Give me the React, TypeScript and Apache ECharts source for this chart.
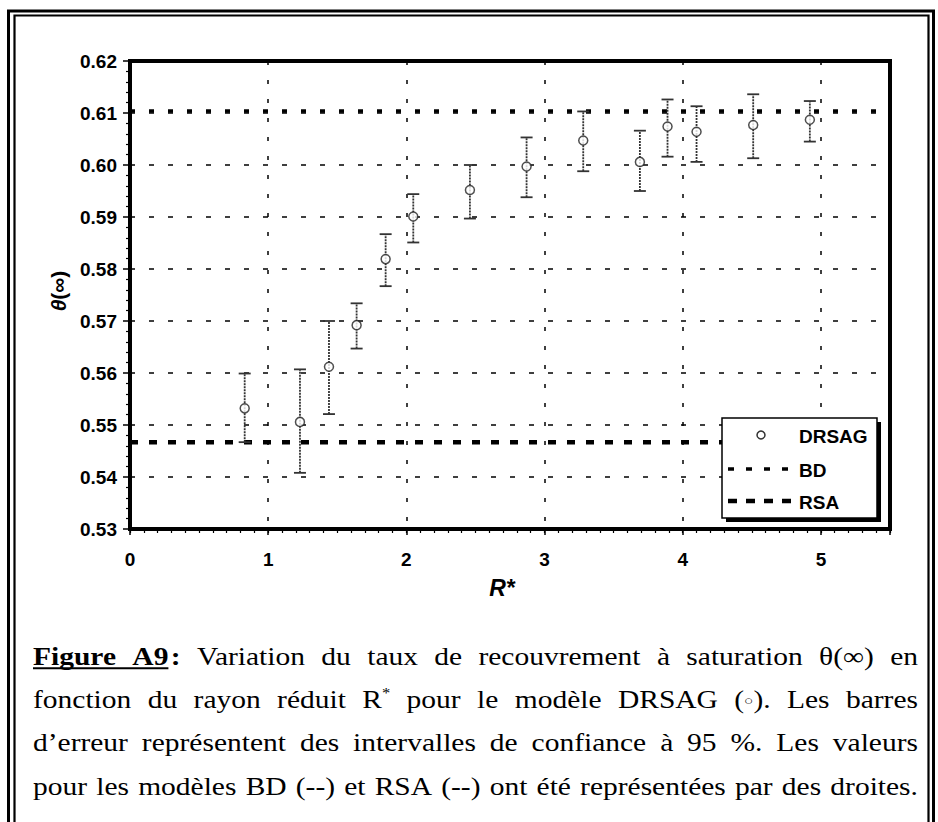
import React, { useEffect, useRef } from 'react';
import * as echarts from 'echarts';

// ---------- data ----------
const R_STAR = [0.83, 1.23, 1.44, 1.64, 1.85, 2.05, 2.46, 2.87, 3.28, 3.69, 3.89, 4.10, 4.51, 4.92];
const THETA = [0.5532, 0.5506, 0.5612, 0.5692, 0.5819, 0.5901, 0.5952, 0.5997, 0.6047, 0.6006, 0.6074, 0.6064, 0.6077, 0.6087];
const CI_LOW = [0.5467, 0.5408, 0.5521, 0.5647, 0.5767, 0.5851, 0.5897, 0.5938, 0.5988, 0.5950, 0.6016, 0.6006, 0.6013, 0.6045];
const CI_HIGH = [0.5599, 0.5607, 0.5700, 0.5734, 0.5867, 0.5944, 0.6000, 0.6053, 0.6103, 0.6066, 0.6126, 0.6113, 0.6136, 0.6123];
const BD_VALUE = 0.6104;
const RSA_VALUE = 0.5467;
const X_MIN = 0;
const X_MAX = 5.5;
const X_STEP = 1;
const X_MINOR_STEP = 0.1;
const Y_MIN = 0.53;
const Y_MAX = 0.62;
const Y_STEP = 0.01;
const SERIES_NAMES = ['DRSAG', 'BD', 'RSA'];

type Part = { t: string; b?: boolean; u?: boolean; sup?: boolean; small?: boolean; dx?: number };
const toks = (s: string): Part[][] => s.split(' ').map((w) => [{ t: w }]);

const CAPTION_LINES: Part[][][] = [
  [
    [{ t: 'Figure', b: true, u: true }],
    [{ t: 'A9', b: true, u: true }, { t: ':', b: true, dx: 2 }],
    ...toks('Variation du taux de recouvrement à saturation θ(∞) en'),
  ],
  [
    ...toks('fonction du rayon réduit'),
    [{ t: 'R' }, { t: '*', sup: true }],
    ...toks('pour le modèle DRSAG'),
    [{ t: '(' }, { t: '○', small: true }, { t: ').' }],
    ...toks('Les barres'),
  ],
  toks('d’erreur représentent des intervalles de confiance à 95 %. Les valeurs'),
  toks('pour les modèles BD (--) et RSA (--) ont été représentées par des droites.'),
];

const SANS = '"Liberation Sans", Arial, sans-serif';
const SERIF = '"Liberation Serif", "DejaVu Serif", serif';

function buildCaption(): any[] {
  const canvas = document.createElement('canvas');
  const ctx = canvas.getContext('2d') as CanvasRenderingContext2D;
  const FS = 25;
  const SUP = 14;
  const SMALL = 13;
  const STRETCH = 1.18;
  const fontOf = (p: Part) => `${p.b ? 'bold ' : ''}${p.sup ? SUP : p.small ? SMALL : FS}px ${SERIF}`;
  const measure = (p: Part) => {
    ctx.font = fontOf(p);
    return ctx.measureText(p.t).width + (p.dx || 0);
  };
  ctx.font = `${FS}px ${SERIF}`;
  const sp = ctx.measureText(' ').width;
  const left = 33;
  const right = 918;
  const ys = [657, 700, 743, 787];
  const els: any[] = [];
  CAPTION_LINES.forEach((tokens, li) => {
    const widths = tokens.map((tok) => tok.reduce((s, p) => s + measure(p), 0));
    const total = widths.reduce((a, b) => a + b, 0);
    const natural = total + sp * (tokens.length - 1);
    const avail = right - left;
    let scale = STRETCH;
    let gap: number;
    if (natural * STRETCH <= avail) {
      gap = (avail / STRETCH - total) / (tokens.length - 1);
    } else {
      scale = avail / natural;
      gap = sp;
    }
    const children: any[] = [];
    let x = 0;
    let uStart: number | null = null;
    let uEnd = 0;
    const y = ys[li];
    tokens.forEach((tok) => {
      tok.forEach((p) => {
        const w = measure(p);
        const px = x + (p.dx || 0);
        children.push({
          type: 'text',
          x: px,
          y: p.sup ? y - FS * 0.3 : y,
          style: {
            text: p.t,
            font: fontOf(p),
            fill: '#000',
            textAlign: 'left',
            textVerticalAlign: 'middle',
          },
        });
        if (p.u) {
          if (uStart === null) uStart = x;
          uEnd = x + w;
        }
        x += w;
      });
      x += gap;
    });
    if (uStart !== null) {
      children.push({
        type: 'line',
        shape: { x1: uStart, y1: y + FS * 0.45, x2: uEnd, y2: y + FS * 0.45 },
        style: { stroke: '#000', lineWidth: 1.8 },
      });
    }
    els.push({ type: 'group', x: left, y: 0, scaleX: scale, children });
  });
  return els;
}

function buildLegend(): any[] {
  const bx = 722;
  const by = 418;
  const bw = 155;
  const bh = 100;
  const tx = 799;
  const rows = [435, 469, 501];
  return [
    { type: 'rect', z: 100, shape: { x: bx + 4, y: by + 4, width: bw, height: bh }, style: { fill: '#000' } },
    { type: 'rect', z: 101, shape: { x: bx, y: by, width: bw, height: bh }, style: { fill: '#fff', stroke: '#000', lineWidth: 1.5 } },
    { type: 'circle', z: 102, shape: { cx: 761, cy: rows[0], r: 4 }, style: { fill: '#fff', stroke: '#333', lineWidth: 1.5 } },
    { type: 'line', z: 102, shape: { x1: 728, y1: rows[1], x2: 792, y2: rows[1] }, style: { stroke: '#000', lineWidth: 3.5, lineDash: [6, 12] } },
    { type: 'line', z: 102, shape: { x1: 728, y1: rows[2], x2: 792, y2: rows[2] }, style: { stroke: '#000', lineWidth: 4.5, lineDash: [9, 9] } },
    ...SERIES_NAMES.map((n, i) => ({
      type: 'text',
      z: 102,
      x: tx,
      y: rows[i] + 1,
      style: { text: n, font: `bold 19px ${SANS}`, fill: '#000', textAlign: 'left', textVerticalAlign: 'middle' },
    })),
  ];
}

function buildFrame(): any[] {
  return [
    { type: 'polyline', z: 100, shape: { points: [[8.5, 840], [8.5, 11], [933.5, 11], [933.5, 840]] }, style: { stroke: '#000', lineWidth: 3, fill: null } },
    { type: 'polyline', z: 100, shape: { points: [[14.5, 840], [14.5, 15.5], [928.5, 15.5], [928.5, 840]] }, style: { stroke: '#000', lineWidth: 2.2, fill: null } },
  ];
}

export default function App() {
  const ref = useRef<HTMLDivElement>(null);
  useEffect(() => {
    if (!ref.current) return;
    const chart = echarts.init(ref.current, null, { renderer: 'svg' });
    const labelStyle = { color: '#000', fontSize: 19, fontWeight: 'bold' as const, fontFamily: SANS };
    const option: any = {
      animation: false,
      backgroundColor: '#fff',
      grid: { left: 130, top: 61, right: 48, bottom: 293, show: true, borderColor: '#000', borderWidth: 4, backgroundColor: 'transparent' },
      xAxis: [
        {
          type: 'value',
          min: X_MIN,
          max: X_MAX,
          interval: X_STEP,
          position: 'bottom',
          axisLine: { show: true, onZero: false, lineStyle: { color: '#000', width: 4 } },
          axisTick: { show: true, length: 6, lineStyle: { color: '#000', width: 1.5 } },
          axisLabel: { ...labelStyle, margin: 21, formatter: (v: number) => (v > 5.001 ? '' : String(Math.round(v))) },
          splitLine: { show: true, lineStyle: { color: '#000', width: 1.5, type: [4, 15] } },
          name: 'R*',
          nameLocation: 'middle',
          nameGap: 47,
          nameTextStyle: { color: '#000', fontSize: 23, fontWeight: 'bold', fontStyle: 'italic', fontFamily: SANS, padding: [0, 16, 0, 0] },
        },
        {
          type: 'value',
          min: X_MIN,
          max: X_MAX,
          interval: X_MINOR_STEP,
          position: 'bottom',
          axisLine: { show: false, onZero: false },
          axisTick: { show: true, length: 4, lineStyle: { color: '#000', width: 1.2 } },
          axisLabel: { show: false },
          splitLine: { show: false },
        },
      ],
      yAxis: {
        type: 'value',
        min: Y_MIN,
        max: Y_MAX,
        interval: Y_STEP,
        axisLine: { show: true, lineStyle: { color: '#000', width: 4 } },
        axisTick: { show: true, length: 7, lineStyle: { color: '#000', width: 1.5 } },
        minorTick: { show: true, splitNumber: 5, length: 4, lineStyle: { color: '#000', width: 1.2 } },
        axisLabel: { ...labelStyle, margin: 13, formatter: (v: number) => v.toFixed(2) },
        splitLine: { show: true, lineStyle: { color: '#000', width: 1.5, type: [5, 14] } },
        name: '{i|θ}(∞)',
        nameLocation: 'middle',
        nameRotate: 90,
        nameGap: 59,
        nameTextStyle: {
          color: '#000',
          fontSize: 21,
          fontWeight: 'bold',
          fontFamily: SANS,
          padding: [0, 0, 0, 8],
          rich: { i: { fontStyle: 'italic', fontWeight: 'bold', fontSize: 21, fontFamily: SANS, color: '#000' } },
        },
      },
      series: [
        {
          name: 'BD',
          type: 'line',
          xAxisIndex: 0,
          data: [[X_MIN, BD_VALUE], [X_MAX, BD_VALUE]],
          symbol: 'none',
          lineStyle: { color: '#000', width: 3.5, type: [5, 14] },
          z: 3,
        },
        {
          name: 'RSA',
          type: 'line',
          xAxisIndex: 0,
          data: [[X_MIN, RSA_VALUE], [X_MAX, RSA_VALUE]],
          symbol: 'none',
          lineStyle: { color: '#000', width: 4.5, type: [8, 11] },
          z: 3,
        },
        {
          name: 'IC 95 %',
          type: 'custom',
          xAxisIndex: 0,
          data: R_STAR.map((x, i) => [x, CI_LOW[i], CI_HIGH[i]]),
          encode: { x: 0, y: [1, 2] },
          renderItem: (params: any, api: any) => {
            const x = api.value(0);
            const lo = api.coord([x, api.value(1)]);
            const hi = api.coord([x, api.value(2)]);
            const hw = 6;
            const st = { stroke: '#333', lineWidth: 1.8, lineDash: [2, 1] };
            const cap = { stroke: '#333', lineWidth: 1.8 };
            return {
              type: 'group',
              children: [
                { type: 'line', shape: { x1: lo[0], y1: lo[1], x2: hi[0], y2: hi[1] }, style: st },
                { type: 'line', shape: { x1: lo[0] - hw, y1: lo[1], x2: lo[0] + hw, y2: lo[1] }, style: cap },
                { type: 'line', shape: { x1: hi[0] - hw, y1: hi[1], x2: hi[0] + hw, y2: hi[1] }, style: cap },
              ],
            };
          },
          z: 4,
        },
        {
          name: 'DRSAG',
          type: 'scatter',
          xAxisIndex: 0,
          data: R_STAR.map((x, i) => [x, THETA[i]]),
          symbol: 'circle',
          symbolSize: 9,
          itemStyle: { color: '#fff', borderColor: '#222', borderWidth: 1.5 },
          z: 5,
        },
      ],
      graphic: [...buildFrame(), ...buildLegend(), ...buildCaption()],
    };
    chart.setOption(option);
    return () => chart.dispose();
  }, []);
  return (
    <div
      ref={ref}
      style={{ position: 'fixed', left: 0, top: 0, width: 938, height: 822, background: '#fff' }}
    />
  );
}
